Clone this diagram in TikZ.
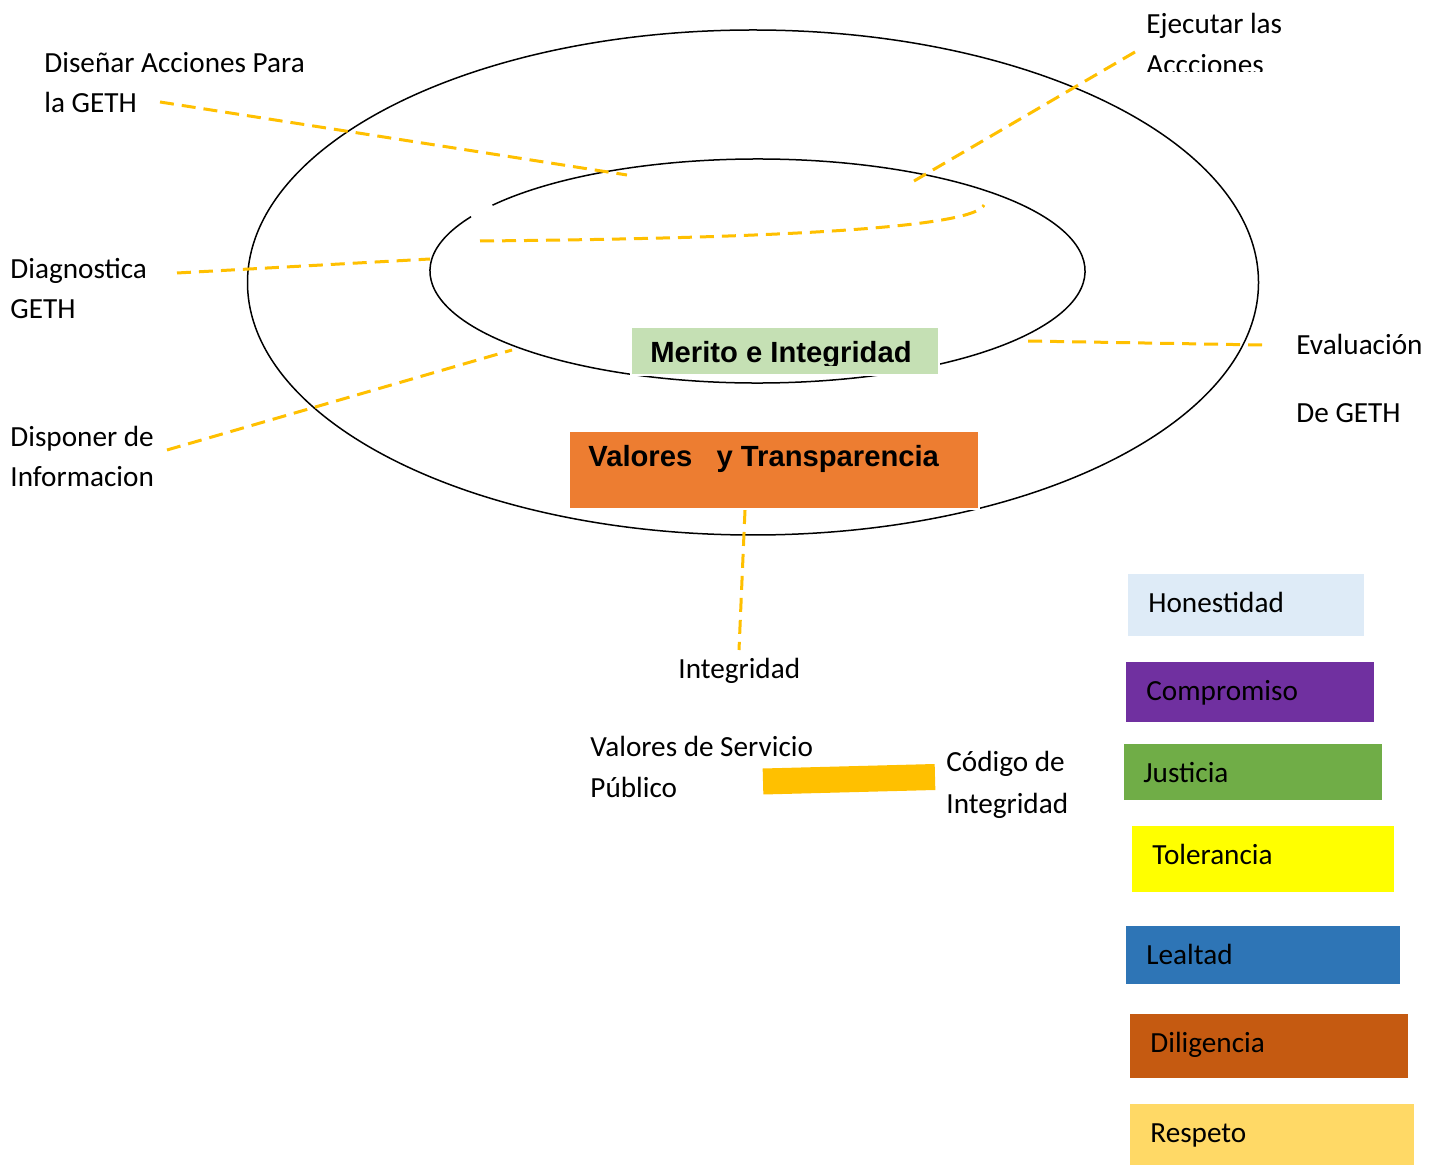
\documentclass[tikz,border=0pt]{standalone}
\usepackage{fontspec}
\setmainfont{Carlito}
\newfontfamily\arialf{Liberation Sans}
\definecolor{yel}{HTML}{FFC000}
\definecolor{mgreen}{HTML}{C5E0B4}
\definecolor{vorange}{HTML}{ED7D31}
\definecolor{chon}{HTML}{DEEBF7}
\definecolor{ccom}{HTML}{7030A0}
\definecolor{cjus}{HTML}{70AD47}
\definecolor{ctol}{HTML}{FFFF00}
\definecolor{clea}{HTML}{2E75B6}
\definecolor{cdil}{HTML}{C55A11}
\definecolor{cres}{HTML}{FFD966}
\begin{document}
\begin{tikzpicture}[x=0.5pt,y=-0.5pt,
  lbl/.style={anchor=base west,inner sep=0pt,font=\fontsize{14.6pt}{17pt}\selectfont},
  btxt/.style={anchor=base west,inner sep=0pt,font=\fontsize{14.6pt}{17pt}\selectfont\arialf\bfseries},
  ring/.style={draw=black,line width=0.75pt},
  ylink/.style={draw=yel,line width=1.5pt,dash pattern=on 7pt off 4pt},
  legbox/.style={anchor=north west,inner sep=0pt,draw=none},
  mainbox/.style={anchor=north west,inner sep=0pt,draw=white,line width=1pt}]
\useasboundingbox[fill=white] (0,0) rectangle (1440,1165);

% rings
\draw[ring] (753,282.5) ellipse [x radius=505.5pt*0.5*2/2, y radius=126.25pt];
\draw[ring] ([shift={(151:163.75pt and 56pt)}]757.5,271) arc[start angle=151,end angle=504,x radius=163.75pt,y radius=56pt];

% labels
\node[lbl] (dis1) at (44,72.5) {Diseñar Acciones Para};
\node[lbl] (dis2) at (44,112.5) {la GETH};
\node[lbl] (eje1) at (1146,33.5) {Ejecutar las};
\begin{scope}
\clip (1100,40) rectangle (1400,72);
\node[lbl] (eje2) at (1146,75) {Accciones};
\end{scope}
\node[lbl] (dia1) at (10,278.5) {Diagnostica};
\node[lbl] (dia2) at (10,318.5) {GETH};
\node[lbl] (dsp1) at (10,446.5) {Disponer de};
\node[lbl] (dsp2) at (10,486.5) {Informacion};
\node[lbl] (eva1) at (1296,354.5) {Evaluación};
\node[lbl] (eva2) at (1296,422.5) {De GETH};
\node[lbl] (integ) at (678,678.5) {Integridad};
\node[lbl] (vsp1) at (590,756.5) {Valores de Servicio};
\node[lbl] (vsp2) at (590,797.5) {Público};
\node[lbl] (cod1) at (946,771.5) {Código de};
\node[lbl] (cod2) at (946,813.5) {Integridad};

% connector points
\coordinate (pdis) at (627,175);
\coordinate (pdisS) at (160,102);
\coordinate (peje) at (914,181);
\coordinate (pejeS) at (1135,52);
\coordinate (pc1) at (480,241);
\coordinate (pc2) at (984,205);
\coordinate (pdia) at (430,259);
\coordinate (pdiaS) at (177,273);
\coordinate (pdsp) at (512,350);
\coordinate (pdspS) at (167,450);
\coordinate (peva) at (1027,341);
\coordinate (pevaS) at (1262,345);
\coordinate (pint) at (745,510);
\coordinate (pintS) at (739,650);

\draw[ylink] (pdisS) -- (pdis);
\draw[ylink] (pejeS) -- (peje);
\draw[ylink] (pc1) .. controls (820,238) and (975,225) .. (pc2);
\draw[ylink] (pdiaS) -- (pdia);
\draw[ylink] (pdspS) -- (pdsp);
\draw[ylink] (pevaS) -- (peva);
\draw[ylink] (pint) -- (pintS);

% yellow bar
\coordinate (barL) at (763,781.5);
\coordinate (barR) at (935,777);
\draw[yel,line width=13pt] (barL) -- (barR);

% main boxes
\node[mainbox,fill=mgreen,minimum width=154pt,minimum height=24pt] (merito) at (630,326) {};
\begin{scope}
\clip (630,326) rectangle (938,366);
\node[btxt] (meritot) at (650,363) {Merito e Integridad};
\end{scope}
\node[mainbox,fill=vorange,minimum width=205pt,minimum height=39pt] (valores) at (568,430) {};
\node[btxt] (valorest) at (588,467) {Valores\ \ \ y Transparencia};

% legend
\node[legbox,fill=chon,minimum width=118pt,minimum height=31pt] (hon) at (1128,574) {};
\node[lbl] (hont) at (1148,612.5) {Honestidad};
\node[legbox,fill=ccom,minimum width=124pt,minimum height=30pt] (com) at (1126,662) {};
\node[lbl] (comt) at (1146,700.5) {Compromiso};
\node[legbox,fill=cjus,minimum width=129pt,minimum height=28pt] (jus) at (1124,744) {};
\node[lbl] (just) at (1143,782.5) {Justicia};
\node[legbox,fill=ctol,minimum width=131pt,minimum height=33pt] (tol) at (1132,826) {};
\node[lbl] (tolt) at (1152,864.5) {Tolerancia};
\node[legbox,fill=clea,minimum width=137pt,minimum height=29pt] (lea) at (1126,926) {};
\node[lbl] (leat) at (1146,964.5) {Lealtad};
\node[legbox,fill=cdil,minimum width=139pt,minimum height=32pt] (dil) at (1130,1014) {};
\node[lbl] (dilt) at (1150,1052.5) {Diligencia};
\node[legbox,fill=cres,minimum width=142pt,minimum height=30.5pt] (res) at (1130,1104) {};
\node[lbl] (rest) at (1150,1142.5) {Respeto};
\end{tikzpicture}
\end{document}
